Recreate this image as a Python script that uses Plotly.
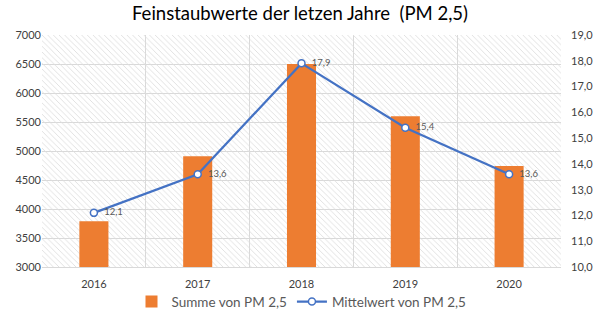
import plotly.graph_objects as go

years = ["2016", "2017", "2018", "2019", "2020"]
summe = [3790, 4910, 6500, 5600, 4740]
mittel = [12.1, 13.6, 17.9, 15.4, 13.6]
mittel_labels = ["12,1", "13,6", "17,9", "15,4", "13,6"]
title = "Feinstaubwerte der letzen Jahre  (PM 2,5)"

font = "Lato"
fig = go.Figure()

# hatched plot background (decoration) on hidden main axes
fig.add_trace(go.Bar(
    x=[0.5], y=[1], width=[1], xaxis="x", yaxis="y",
    marker=dict(color="rgba(0,0,0,0)", line=dict(width=0),
                pattern=dict(shape="\\", size=4, solidity=0.22,
                             fgcolor="#dedede", fillmode="replace")),
    showlegend=False, hoverinfo="skip"))

fig.add_trace(go.Bar(
    x=years, y=summe, name="Summe von PM 2,5", xaxis="x2", yaxis="y2",
    marker=dict(color="#ED7D31", line=dict(width=0)), width=0.28))

fig.add_trace(go.Scatter(
    x=years, y=mittel, name="Mittelwert von PM 2,5", xaxis="x2", yaxis="y3",
    mode="lines+markers+text", text=["  " + t for t in mittel_labels],
    textposition="middle right",
    textfont=dict(family=font, size=9.5, color="#595959"),
    line=dict(color="#4472C4", width=2.25),
    marker=dict(symbol="circle", size=7, color="white",
                line=dict(color="#4472C4", width=1.5))))

fig.update_layout(
    width=600, height=324,
    margin=dict(l=42, r=39, t=35, b=57, autoexpand=False),
    paper_bgcolor="white", plot_bgcolor="rgba(0,0,0,0)",
    separators=",.",
    font=dict(family=font, size=11, color="#404040"),
    title=dict(text=title, x=0.5, xanchor="center", y=0.957, yanchor="middle",
               font=dict(family=font, size=18.5, color="black")),
    xaxis=dict(range=[0, 1], visible=False, fixedrange=True),
    yaxis=dict(range=[0, 1], visible=False, fixedrange=True),
    xaxis2=dict(overlaying="x", anchor="y2", type="category", tickson="boundaries",
                showgrid=True, gridcolor="#d9d9d9", gridwidth=1,
                showline=True, linecolor="#d9d9d9", ticks="", ticklen=0,
                ticklabelstandoff=7,
                tickfont=dict(family=font, size=11, color="#404040")),
    yaxis2=dict(overlaying="y", side="left", range=[3000, 7000], dtick=500,
                showgrid=True, gridcolor="#d9d9d9", gridwidth=1, zeroline=False,
                tickfont=dict(family=font, size=11, color="#404040")),
    yaxis3=dict(overlaying="y", side="right", anchor="x2", range=[10, 19], dtick=1,
                tickformat=".1f", showgrid=False, zeroline=False,
                ticklabelstandoff=9,
                tickfont=dict(family=font, size=11, color="#404040")),
    barmode="overlay",
    legend=dict(orientation="h", x=0.5, xanchor="center", y=-0.15, yanchor="middle",
                font=dict(family=font, size=13.5, color="#595959"),
                itemwidth=30, bgcolor="rgba(0,0,0,0)"),
)

fig.write_html("out.html")
